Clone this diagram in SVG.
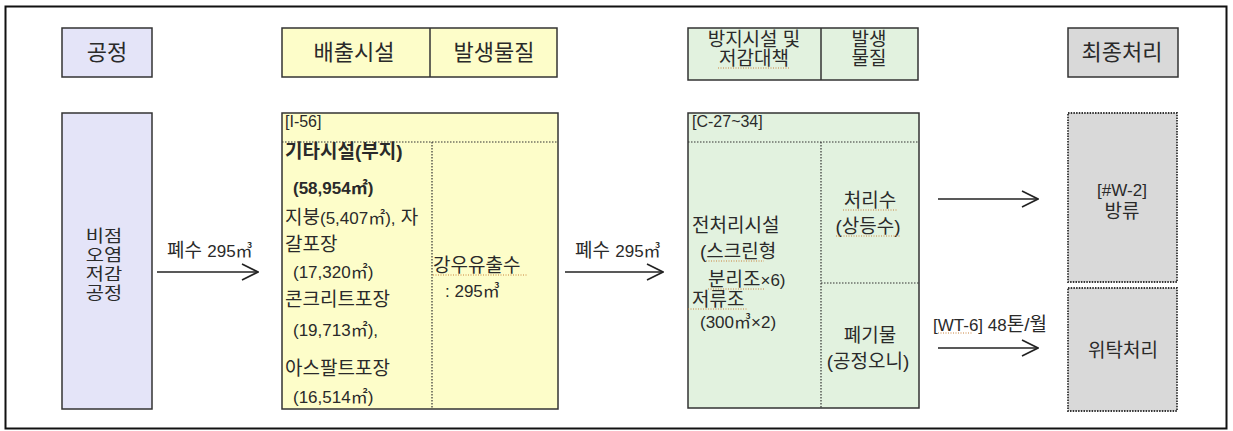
<svg xmlns="http://www.w3.org/2000/svg" width="1233" height="431" viewBox="0 0 1233 431">
<defs>
<marker id="arr" viewBox="0 0 18 18" refX="17" refY="9" markerUnits="userSpaceOnUse" markerWidth="18" markerHeight="18" orient="auto">
<path d="M1,1 L17,9 L1,17" fill="none" stroke="#222" stroke-width="1.6"/>
</marker>
</defs>
<style>
text{font-family:"Liberation Sans","Noto Sans CJK KR",sans-serif;fill:#2a2a2a;}
.h{font-size:22px;text-anchor:middle;}
.h2{font-size:19px;text-anchor:middle;}
.v{font-size:16.5px;text-anchor:middle;}
.b{font-size:19px;}
.bb{font-size:19px;font-weight:bold;}
.c{font-size:19px;text-anchor:middle;}
.s{font-size:16px;}
.l{font-size:19px;}
.n{font-size:17px;}
.box{stroke:#333;stroke-width:1.5;}
.pur{fill:#e4e4f8;}
.yel{fill:#fdfdc9;}
.grn{fill:#e2f2df;}
.gry{fill:#d9d9d9;}
.dot{stroke:#333;stroke-width:1.2;stroke-dasharray:1.5 1.5;fill:none;}
.gbox{fill:#d9d9d9;stroke:#333;stroke-width:1.8;stroke-dasharray:1.5 1.2;}
.sq{stroke:#c8823c;stroke-width:1;stroke-dasharray:1 1.5;fill:none;}
.ln{stroke:#222;stroke-width:1.6;fill:none;}
</style>
<rect x="5.5" y="6.5" width="1221" height="422" fill="#fff" stroke="#111" stroke-width="2"/>

<g id="hdr-process">
<rect class="box pur" x="62" y="28" width="90" height="49"/>
<text class="h" x="107" y="60">공정</text>
</g>
<g id="hdr-emission">
<rect class="box yel" x="282" y="28" width="275" height="49"/>
<line class="box" x1="430" y1="28" x2="430" y2="77"/>
<text class="h" x="354" y="60">배출시설</text>
<text class="h" x="494" y="60">발생물질</text>
</g>
<g id="hdr-prevention">
<rect class="box grn" x="688" y="28" width="230" height="52"/>
<line class="box" x1="821" y1="28" x2="821" y2="80"/>
<text class="h2" x="754" y="46">방지시설 및<tspan x="754" dy="19">저감대책</tspan></text>
<text class="h2" x="869" y="46">발생<tspan x="869" dy="19">물질</tspan></text>
<path class="sq" d="M718,68 L790,68"/>
</g>
<g id="hdr-final">
<rect class="box gry" x="1068" y="28" width="110" height="49"/>
<text class="h" x="1122" y="60">최종처리</text>
</g>

<g id="node-process">
<rect class="box pur" x="62" y="113" width="90" height="296"/>
<g transform="translate(104,0) scale(1.2,1)">
<text class="v" x="0" y="242">비점<tspan x="0" dy="19">오염</tspan><tspan x="0" dy="19">저감</tspan><tspan x="0" dy="19">공정</tspan></text>
</g>
</g>

<g id="node-emission">
<rect class="box yel" x="282" y="113" width="276" height="296"/>
<line class="dot" x1="282" y1="142" x2="558" y2="142"/>
<line class="dot" x1="432" y1="142" x2="432" y2="409"/>
<text class="s" x="285" y="127">[I-56]</text>
<text class="bb" x="285" y="158">기타시설(부지)</text>
<text class="bb" x="293" y="194"><tspan class="n">(58,954㎡)</tspan></text>
<text class="b" x="285" y="224">지붕<tspan class="n">(5,407㎡),</tspan> 자</text>
<text class="b" x="285" y="251">갈포장</text>
<text class="b" x="293" y="278"><tspan class="n">(17,320㎡)</tspan></text>
<text class="b" x="285" y="306">콘크리트포장</text>
<text class="b" x="293" y="336"><tspan class="n">(19,713㎡),</tspan></text>
<text class="b" x="285" y="375">아스팔트포장</text>
<text class="b" x="293" y="403"><tspan class="n">(16,514㎡)</tspan></text>
<text class="b" x="433" y="272">강우유출수</text>
<text class="b" x="445" y="297"><tspan class="n">: 295㎥</tspan></text>
<path class="sq" d="M433,275 L528,275"/>
</g>

<g id="node-prevention">
<rect class="box grn" x="688" y="113" width="231" height="295"/>
<line class="dot" x1="688" y1="142" x2="919" y2="142"/>
<line class="dot" x1="821" y1="142" x2="821" y2="408"/>
<line class="dot" x1="821" y1="283" x2="919" y2="283"/>
<text class="s" x="692" y="127">[C-27~34]</text>
<text class="b" x="692" y="232">전처리시설</text>
<text class="b" x="700" y="258">(스크린형</text>
<text class="b" x="708" y="286">분리조<tspan class="n">×6)</tspan></text>
<text class="b" x="692" y="306">저류조</text>
<text class="b" x="700" y="328"><tspan class="n">(300㎥×2)</tspan></text>
<text class="c" x="870" y="207">처리수</text>
<text class="c" x="868" y="233">(상등수)</text>
<text class="c" x="870" y="342">폐기물</text>
<text class="c" x="868" y="368">(공정오니)</text>
<path class="sq" d="M706,261 L764,261 M708,289 L764,289 M688,309 L748,309 M843,210 L897,210 M836,236 L900,236"/>
</g>

<g id="node-discharge">
<rect class="gbox" x="1068" y="113" width="109" height="169"/>
<text class="c" x="1122" y="196"><tspan class="n">[#W-2]</tspan></text>
<text class="c" x="1122" y="218">방류</text>
</g>
<g id="node-consign">
<rect class="gbox" x="1068" y="288" width="109" height="123"/>
<text class="c" x="1123" y="357">위탁처리</text>
</g>

<g id="connectors">
<line class="ln" x1="157" y1="272" x2="258" y2="272" marker-end="url(#arr)"/>
<text class="l" x="167" y="257">폐수 <tspan class="n">295㎥</tspan></text>
<line class="ln" x1="565" y1="272" x2="663" y2="272" marker-end="url(#arr)"/>
<text class="l" x="575" y="257">폐수 <tspan class="n">295㎥</tspan></text>
<line class="ln" x1="938" y1="199" x2="1038" y2="199" marker-end="url(#arr)"/>
<line class="ln" x1="938" y1="348" x2="1038" y2="348" marker-end="url(#arr)"/>
<text class="l" x="933" y="331"><tspan class="n">[WT-6] 48</tspan>톤/월</text>
<path class="sq" d="M938,333 L972,333"/>
</g>
</svg>
